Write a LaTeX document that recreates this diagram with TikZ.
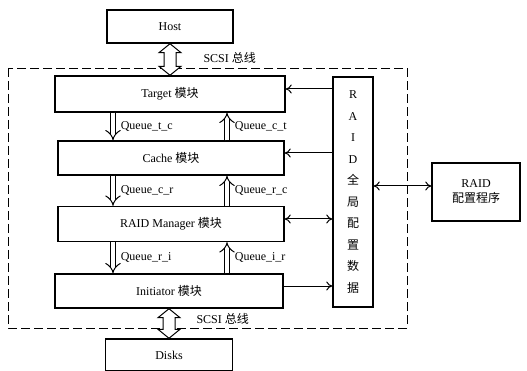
\documentclass[tikz,border=0pt]{standalone}
\usepackage{fontspec}
\setmainfont{Liberation Serif}
\newfontfamily\cjk{Noto Sans CJK SC}
\usetikzlibrary{arrows.meta,calc}
\newcommand{\zh}[1]{{\cjk #1}}

\begin{document}
\begin{tikzpicture}[
        x=1pt, y=-1pt,
        box/.style={draw, line width=1.4pt, rectangle, align=center, font=\fontsize{12}{15}\selectfont},
        arrow/.style={line width=1pt, -{To[length=6pt,width=9pt]}},
        twoway/.style={line width=1pt, {To[length=6pt,width=9pt]}-{To[length=6pt,width=9pt]}},
        queue/.style={double, double distance=4.5pt, line width=1pt, -{Implies}},
        bus/.style={draw, fill=white, line width=1pt, line join=miter},
        lbl/.style={font=\fontsize{12}{14}\selectfont}
    ]
    \useasboundingbox (0,0) rectangle (527,371);

    % Controller frame (dashed)
    \draw[line width=0.9pt, dash pattern=on 9pt off 4pt] (8,68) rectangle (407,328);

    % Explicit coordinates, pixel grid of the scan
    \node[box, minimum width=126, minimum height=33] (host) at (170, 26.5) {Host};
    \node[box, minimum width=230, minimum height=36] (tgt) at (170, 94) {Target \zh{模块}};
    \node[box, minimum width=226, minimum height=34] (cache) at (171, 158) {Cache \zh{模块}};
    \node[box, minimum width=226, minimum height=35] (mgr) at (171, 224) {RAID Manager \zh{模块}};
    \node[box, minimum width=228, minimum height=34] (init) at (169, 291) {Initiator \zh{模块}};
    \node[box, minimum width=127, minimum height=32] (disks) at (169, 355) {Disks};

    \node[box, minimum width=40, minimum height=230, font=\fontsize{12}{21.5}\selectfont] (cfg) at (353, 192)
        {R\\A\\I\\D\\\zh{全}\\\zh{局}\\\zh{配}\\\zh{置}\\\zh{数}\\\zh{据}};
    \node[box, minimum width=88, minimum height=58] (prog) at (476, 192) {RAID\\\zh{配置程序}};

    % Queue columns
    \coordinate (ql) at (113, 0);
    \coordinate (qr) at (227, 0);

    % SCSI buses (hollow double arrows)
    \path[bus] (host.south) -- ++(11,9) -- ++(-5,0) -- ($(tgt.north)+(6,-9)$) -- ++(5,0) -- (tgt.north)
        -- ++(-11,-9) -- ++(5,0) -- ($(host.south)+(-6,9)$) -- ++(-5,0) -- cycle;
    \path[bus] (init.south -| disks.north) -- ++(11,9) -- ++(-5,0) -- ($(disks.north)+(6,-9)$) -- ++(5,0) -- (disks.north)
        -- ++(-11,-9) -- ++(5,0) -- ($(init.south -| disks.north)+(-6,9)$) -- ++(-5,0) -- cycle;
    \node[lbl, anchor=west] (bustop) at ($(host.south)!0.45!(tgt.north)+(30,0)$) {SCSI \zh{总线}};
    \node[lbl, anchor=west] (busbot) at ($(init.south -| disks.north)!0.35!(disks.north)+(24,0)$) {SCSI \zh{总线}};

    % Queues down
    \draw[queue] (tgt.south -| ql) -- node[lbl, right=4pt] {Queue\_t\_c} (cache.north -| ql);
    \draw[queue] (cache.south -| ql) -- node[lbl, right=4pt] {Queue\_c\_r} (mgr.north -| ql);
    \draw[queue] (mgr.south -| ql) -- node[lbl, right=4pt] {Queue\_r\_i} (init.north -| ql);

    % Queues up
    \draw[queue] (cache.north -| qr) -- node[lbl, right=4pt] {Queue\_c\_t} (tgt.south -| qr);
    \draw[queue] (mgr.north -| qr) -- node[lbl, right=4pt] {Queue\_r\_c} (cache.south -| qr);
    \draw[queue] (init.north -| qr) -- node[lbl, right=4pt] {Queue\_i\_r} (mgr.south -| qr);

    % Global configuration data links
    \draw[arrow] ($(cfg.west |- tgt.east)+(0,-5)$) -- ($(tgt.east)+(0,-5)$);
    \draw[arrow] ($(cfg.west |- cache.east)+(0,-5)$) -- ($(cache.east)+(0,-5)$);
    \draw[twoway] ($(mgr.east)+(0,-5)$) -- ($(cfg.west |- mgr.east)+(0,-5)$);
    \draw[arrow] ($(init.east)+(0,-5)$) -- ($(cfg.west |- init.east)+(0,-5)$);
    \draw[twoway] ($(cfg.east |- prog.west)+(0,-6)$) -- ($(prog.west)+(0,-6)$);

\end{tikzpicture}
\end{document}
